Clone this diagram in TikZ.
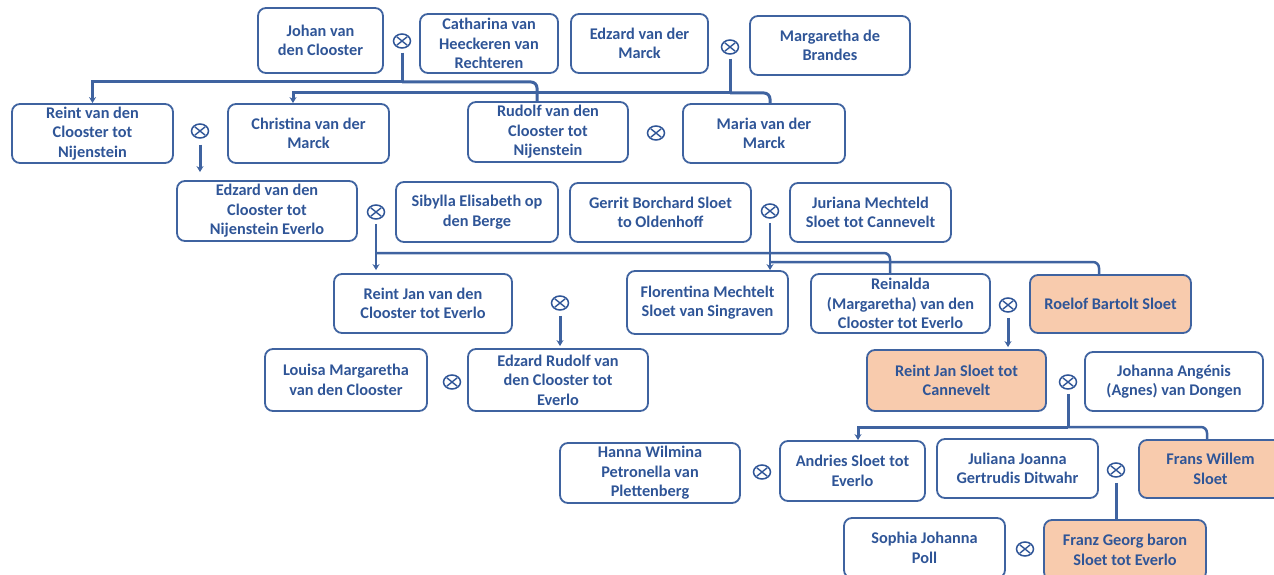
\documentclass[tikz,border=0pt]{standalone}
\usepackage{fontspec}
\setmainfont{Carlito}
\usetikzlibrary{arrows.meta,shapes.geometric}
\definecolor{tblue}{HTML}{2F5597}
\definecolor{bblue}{HTML}{3F63A0}
\definecolor{pfill}{HTML}{F8CBAD}
\tikzset{
  person/.style 2 args={draw=bblue, line width=1.8pt, rounded corners=8pt, text=tblue,
    font=\fontsize{16.3}{19.5}\selectfont\bfseries, align=center, inner sep=0pt,
    minimum width=#1, minimum height=#2},
  hl/.style={fill=pfill},
  marr/.style={ellipse, draw=tblue, line width=1.5pt, minimum width=17pt, minimum height=14pt, inner sep=0pt,
    path picture={\draw[tblue, line width=1.4pt]
      ([shift={(-5.2pt,-4.2pt)}]path picture bounding box.center) -- ([shift={(5.2pt,4.2pt)}]path picture bounding box.center)
      ([shift={(-5.2pt,4.2pt)}]path picture bounding box.center) -- ([shift={(5.2pt,-4.2pt)}]path picture bounding box.center);}},
  conn/.style={draw=bblue, line width=2.5pt},
  thick conn/.style={draw=bblue, line width=3pt},
  arr/.style={-{Stealth[length=6pt,width=7pt]}},
  elbow/.style={rounded corners=6pt},
}
\begin{document}
\begin{tikzpicture}[x=1pt,y=-1pt]
\useasboundingbox (0,0) rectangle (1274,575);
\clip (0,0) rectangle (1274,575);
% row 1
\node[person={125pt}{65pt}] (johan) at (320.5,40.5) {Johan van\\den Clooster};
\node[marr] (m1) at (402,41) {};
\node[person={138pt}{59pt}] (cath) at (489,43.5) {Catharina van\\Heeckeren van\\Rechteren};
\node[person={137pt}{59pt}] (edzm) at (639.5,43.5) {Edzard van der\\Marck};
\node[marr] (m2) at (730,47) {};
\node[person={160pt}{59pt}] (marg) at (830,45.5) {Margaretha de\\Brandes};
% row 2
\node[person={161pt}{59pt}] (reint) at (92.5,133.5) {Reint van den\\Clooster tot\\Nijenstein};
\node[marr] (m3) at (200,131) {};
\node[person={161pt}{59pt}] (christ) at (308.5,133.5) {Christina van der\\Marck};
\node[person={160pt}{60pt}] (rudolf) at (548,132) {Rudolf van den\\Clooster tot\\Nijenstein};
\node[marr] (m4) at (656,133) {};
\node[person={162pt}{59pt}] (maria) at (764,133.5) {Maria van der\\Marck};
% row 3
\node[person={180pt}{60pt}] (edzc) at (267,211) {Edzard van den\\Clooster tot\\Nijenstein Everlo};
\node[marr] (m5) at (376,212) {};
\node[person={162pt}{60pt}] (sib) at (477,212) {Sibylla Elisabeth op\\den Berge};
\node[person={181pt}{59pt}] (gerrit) at (660.5,212.5) {Gerrit Borchard Sloet\\to Oldenhoff};
\node[marr] (m6) at (770,211) {};
\node[person={161pt}{59pt}] (juri) at (870.5,212.5) {Juriana Mechteld\\Sloet tot Cannevelt};
% row 4
\node[person={178pt}{59pt}] (reintjan) at (423,303.5) {Reint Jan van den\\Clooster tot Everlo};
\node[marr] (m7) at (560,303) {};
\node[person={161pt}{63pt}] (flor) at (707.5,302.5) {Florentina Mechtelt\\Sloet van Singraven};
\node[person={179pt}{59pt}] (rein) at (900.5,303.5) {Reinalda\\(Margaretha) van den\\Clooster tot Everlo};
\node[marr] (m8) at (1008,305) {};
\node[person={161pt}{58pt}, hl] (roelof) at (1110.5,304) {Roelof Bartolt Sloet};
% row 5
\node[person={162pt}{62pt}] (louisa) at (346,380) {Louisa Margaretha\\van den Clooster};
\node[marr] (m9) at (452,382) {};
\node[person={180pt}{62pt}] (edzr) at (558,380) {Edzard Rudolf van\\den Clooster tot\\Everlo};
\node[person={179pt}{61pt}, hl] (rjs) at (956.5,380.5) {Reint Jan Sloet tot\\Cannevelt};
\node[marr] (m10) at (1068,382) {};
\node[person={178pt}{59pt}] (johanna) at (1174,381.5) {Johanna Angénis\\(Agnes) van Dongen};
% row 6
\node[person={180pt}{60pt}] (hanna) at (650,473) {Hanna Wilmina\\Petronella van\\Plettenberg};
\node[marr] (m11) at (762,472) {};
\node[person={145pt}{60pt}] (andries) at (852.5,471) {Andries Sloet tot\\Everlo};
\node[person={161pt}{59pt}] (juliana) at (1017.5,468.5) {Juliana Joanna\\Gertrudis Ditwahr};
\node[marr] (m12) at (1116,470) {};
\node[person={143pt}{58pt}, hl] (frans) at (1210.5,469) {Frans Willem\\Sloet};
% row 7
\node[person={161pt}{60pt}] (sophia) at (924.5,548) {Sophia Johanna\\Poll};
\node[marr] (m13) at (1025,549) {};
\node[person={162pt}{60pt}, hl] (franz) at (1125,550) {Franz Georg baron\\Sloet tot Everlo};
% connectors
\coordinate (j1) at (402,82);
\draw[thick conn, shorten <=4pt] (m1.south) -- (j1);
\draw[thick conn, arr] (j1) -| (reint.north);
\draw[thick conn, elbow] (j1) -| ([xshift=-11pt]rudolf.north);
\coordinate (j2) at (730,93);
\draw[thick conn, shorten <=4pt] (m2.south) -- (j2);
\draw[thick conn, arr] (j2) -| ([xshift=-15.5pt]christ.north);
\draw[thick conn, elbow] (j2) -| ([xshift=6pt]maria.north);
\draw[thick conn, arr, shorten <=6pt, shorten >=8pt] (m3.south) -- (m3 |- edzc.north);
\coordinate (j5) at (376,253);
\draw[conn, arr, shorten <=4pt, shorten >=3pt] (m5.south) -- (m5 |- reintjan.north);
\draw[conn, elbow] (j5) -| ([xshift=-10.5pt]rein.north);
\coordinate (j6) at (770,262);
\draw[conn, arr, shorten <=4pt] (m6.south) -- (m6 |- flor.north);
\draw[conn, elbow] (j6) -| ([xshift=-11.5pt]roelof.north);
\draw[thick conn, arr, shorten <=5pt, shorten >=2pt] (m7.south) -- (m7 |- edzr.north);
\draw[thick conn, arr, shorten <=5pt, shorten >=2pt] (m8.south) -- (m8 |- rjs.north);
\coordinate (j10) at (1068,427);
\draw[thick conn, shorten <=4pt] (m10.south) -- (j10);
\draw[thick conn, arr] (j10) -| ([xshift=5.5pt]andries.north);
\draw[conn, elbow] (j10) -| ([xshift=-3.5pt]frans.north);
\draw[thick conn, shorten <=5pt] (m12.south) -- (m12 |- franz.north);
\end{tikzpicture}
\end{document}
